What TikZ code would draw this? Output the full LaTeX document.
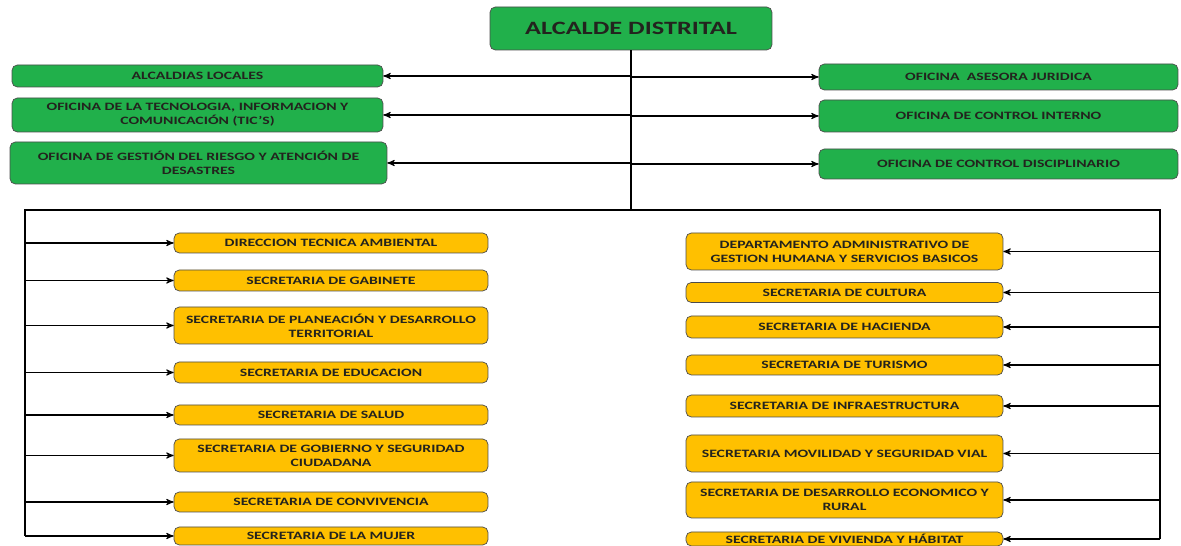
\documentclass[tikz,border=0pt]{standalone}
\usepackage{fontspec}
\setmainfont{Carlito}[FakeStretch=1.4]
\usepackage{tikz}
\usetikzlibrary{arrows}
\definecolor{orggreen}{RGB}{33,176,75}
\definecolor{orgyellow}{RGB}{255,192,0}
\definecolor{orgtext}{RGB}{35,35,30}

\begin{document}
\begin{tikzpicture}[x=0.02cm,y=-0.02cm]
    \tikzstyle{e} = [draw, line width=0.6pt, -stealth']
    \tikzstyle{rail} = [draw, line width=1.1pt]
    \tikzstyle{unit} = [draw=black!70, rounded corners=3pt, inner sep=1pt, align=center, text=orgtext, font=\fontsize{6.4}{8}\selectfont\bfseries]
    \tikzstyle{office} = [unit, fill=orggreen]
    \tikzstyle{secl} = [unit, fill=orgyellow, minimum width=6.28cm]
    \tikzstyle{secr} = [unit, fill=orgyellow, minimum width=6.34cm]
    \useasboundingbox (0,0) rectangle (1181,546);

    \node[office, minimum width=5.64cm, minimum height=0.86cm, font=\fontsize{10.7}{12}\selectfont\bfseries] (alcalde) at (631,28.5) {ALCALDE DISTRITAL};

    \node[office, minimum width=7.42cm, minimum height=0.44cm] (locales) at (197.5,76) {ALCALDIAS LOCALES};
    \node[office, minimum width=7.42cm, minimum height=0.68cm] (tic) at (197.5,115) {OFICINA DE LA TECNOLOGIA, INFORMACION Y\\COMUNICACIÓN (TIC'S)};
    \node[office, minimum width=7.54cm, minimum height=0.84cm] (riesgo) at (198.5,163) {OFICINA DE GESTIÓN DEL RIESGO Y ATENCIÓN DE\\DESASTRES};
    \node[office, minimum width=7.18cm, minimum height=0.52cm] (juridica) at (998.5,77) {OFICINA\ \ ASESORA JURIDICA};
    \node[office, minimum width=7.18cm, minimum height=0.64cm] (interno) at (998.5,116) {OFICINA DE CONTROL INTERNO};
    \node[office, minimum width=7.18cm, minimum height=0.6cm] (disciplina) at (998.5,164) {OFICINA DE CONTROL DISCIPLINARIO};

    \node[secl, minimum height=0.4cm] (ambiental) at (331,243) {DIRECCION TECNICA AMBIENTAL};
    \node[secl, minimum height=0.42cm] (gabinete) at (331,280.5) {SECRETARIA DE GABINETE};
    \node[secl, minimum height=0.74cm] (planeacion) at (331,325.5) {SECRETARIA DE PLANEACIÓN Y DESARROLLO\\TERRITORIAL};
    \node[secl, minimum height=0.42cm] (educacion) at (331,372.5) {SECRETARIA DE EDUCACION};
    \node[secl, minimum height=0.4cm] (salud) at (331,415) {SECRETARIA DE SALUD};
    \node[secl, minimum height=0.66cm] (gobierno) at (331,455.5) {SECRETARIA DE GOBIERNO Y SEGURIDAD\\CIUDADANA};
    \node[secl, minimum height=0.4cm] (convivencia) at (331,502) {SECRETARIA DE CONVIVENCIA};
    \node[secl, minimum height=0.36cm] (mujer) at (331,536) {SECRETARIA DE LA MUJER};

    \node[secr, minimum height=0.74cm] (humana) at (844.5,251.5) {DEPARTAMENTO ADMINISTRATIVO DE\\GESTION HUMANA Y SERVICIOS BASICOS};
    \node[secr, minimum height=0.4cm] (cultura) at (844.5,292.5) {SECRETARIA DE CULTURA};
    \node[secr, minimum height=0.44cm] (hacienda) at (844.5,327) {SECRETARIA DE HACIENDA};
    \node[secr, minimum height=0.4cm] (turismo) at (844.5,365) {SECRETARIA DE TURISMO};
    \node[secr, minimum height=0.44cm] (infra) at (844.5,406) {SECRETARIA DE INFRAESTRUCTURA};
    \node[secr, minimum height=0.74cm] (movilidad) at (844.5,453.5) {SECRETARIA MOVILIDAD Y SEGURIDAD VIAL};
    \node[secr, minimum height=0.72cm] (economico) at (844.5,500) {SECRETARIA DE DESARROLLO ECONOMICO Y\\RURAL};
    \node[secr, minimum height=0.28cm] (vivienda) at (844.5,539) {SECRETARIA DE VIVIENDA Y HÁBITAT};

    \coordinate (bus) at (631,210);
    \coordinate (railL) at (25,210);
    \coordinate (railR) at (1160,210);

    \draw [rail] (alcalde.south) -- (bus);
    \draw [e] (bus |- locales.east) -- (locales.east);
    \draw [e] (bus |- tic.east) -- (tic.east);
    \draw [e] (bus |- riesgo.east) -- (riesgo.east);
    \draw [e] (bus |- juridica.west) -- (juridica.west);
    \draw [e] (bus |- interno.west) -- (interno.west);
    \draw [e] (bus |- disciplina.west) -- (disciplina.west);

    \draw [rail] (railL |- mujer.west) -- (railL) -- (railR) -- (railR |- vivienda.east);
    \foreach \n in {ambiental,gabinete,planeacion,educacion,salud,gobierno,convivencia,mujer}
        \draw [e] (railL |- \n.west) -- (\n.west);
    \foreach \n in {humana,cultura,hacienda,turismo,infra,movilidad,economico,vivienda}
        \draw [e] (railR |- \n.east) -- (\n.east);
\end{tikzpicture}
\end{document}
